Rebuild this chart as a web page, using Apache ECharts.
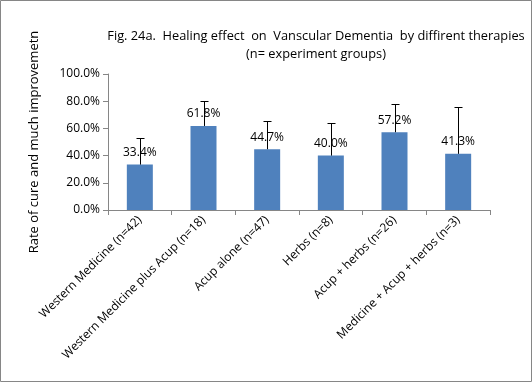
<!DOCTYPE html>
<html><head><meta charset="utf-8">
<script src="https://cdn.jsdelivr.net/npm/echarts@6/dist/echarts.min.js"></script>
<style>html,body{margin:0;padding:0;background:#fff}#c{width:532px;height:382px}</style>
</head><body><div id="c"></div>
<script>
var categories = ['Western Medicine (n=42)', 'Western Medicine plus Acup (n=18)', 'Acup alone (n=47)', 'Herbs (n=8)', 'Acup + herbs (n=26)', 'Medicine + Acup + herbs (n=3)'];
var values = [33.4, 61.8, 44.7, 40.0, 57.2, 41.3];
var errors = [19.3, 18.6, 20.5, 24.2, 20.5, 34.2];
var yTicks = [0, 20, 40, 60, 80, 100];

var font = 'Open Sans';
var chart = echarts.init(document.getElementById('c'));
chart.setOption({
  animation: false,
  backgroundColor: '#fff',
  graphic: [{type: 'rect', shape: {x: 0.5, y: 0.5, width: 531, height: 381}, style: {fill: 'none', stroke: '#868686', lineWidth: 1}}],
  title: {
    text: 'Fig. 24a.  Healing effect  on  Vanscular Dementia  by diffirent therapies\n(n= experiment groups)',
    left: 311, top: 22, textAlign: 'center',
    textStyle: {fontFamily: font, fontSize: 12.8, fontWeight: 'normal', color: '#000', lineHeight: 18, align: 'center'}
  },
  grid: {left: 108, right: 42, top: 74, bottom: 172, containLabel: false},
  xAxis: {
    type: 'category', data: categories,
    axisLine: {lineStyle: {color: '#868686'}},
    axisTick: {show: true, alignWithLabel: false, length: 5, lineStyle: {color: '#868686'}},
    axisLabel: {rotate: 45, interval: 0, color: '#000', fontFamily: font, fontSize: 12, margin: 8}
  },
  yAxis: {
    type: 'value', min: 0, max: 100, interval: 20,
    name: 'Rate of cure and much improvemetn', nameLocation: 'middle', nameGap: 67, nameRotate: 90,
    nameTextStyle: {fontFamily: font, fontSize: 13, color: '#000'},
    axisLine: {show: true, lineStyle: {color: '#868686'}},
    axisTick: {show: true, inside: false, length: 5, lineStyle: {color: '#868686'}},
    splitLine: {show: false},
    axisLabel: {color: '#000', fontFamily: font, fontSize: 12, margin: 8, formatter: function(v){return yTicks.indexOf(v) >= 0 ? v.toFixed(1) + '%' : '';}}
  },
  series: [{
    type: 'bar', data: values, barWidth: 26, z: 2,
    itemStyle: {color: '#4F81BD'},
    label: {show: true, position: 'top', distance: 6, color: '#000', fontFamily: font, fontSize: 12, formatter: function(p){return p.value.toFixed(1) + '%';}}
  }, {
    type: 'custom', z: 5,
    data: values.map(function(v, i){return [i, v, v + errors[i]];}),
    renderItem: function(params, api){
      var x = api.value(0);
      var p0 = api.coord([x, api.value(1)]);
      var p1 = api.coord([x, api.value(2)]);
      var cx = Math.round(p0[0]) + 0.5;
      return {type: 'group', children: [
        {type: 'line', shape: {x1: cx, y1: p0[1], x2: cx, y2: Math.round(p1[1]) + 0.5}, style: {stroke: '#000', lineWidth: 1}},
        {type: 'line', shape: {x1: cx - 4, y1: Math.round(p1[1]) + 0.5, x2: cx + 4, y2: Math.round(p1[1]) + 0.5}, style: {stroke: '#000', lineWidth: 1}}
      ]};
    }
  }]
});
</script></body></html>
